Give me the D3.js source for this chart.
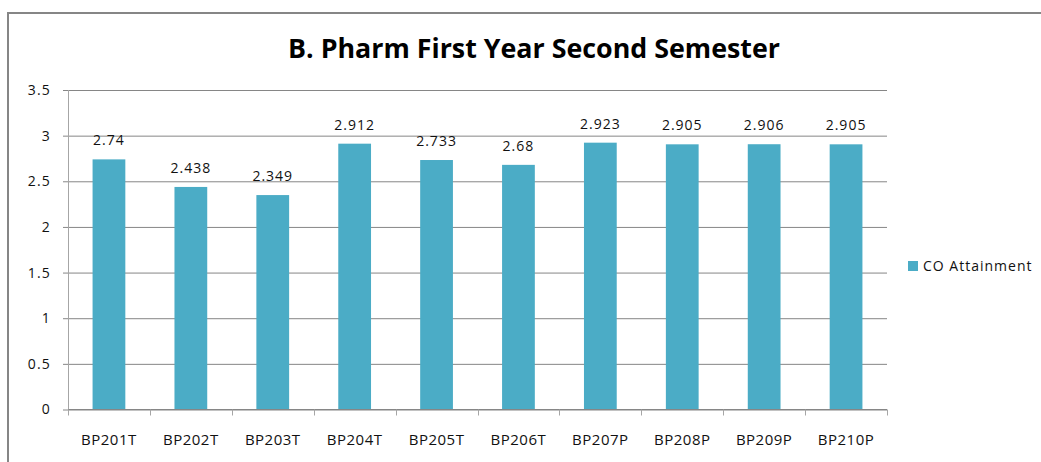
<!DOCTYPE html>
<html>
<head>
<meta charset="utf-8">
<script src="https://cdn.jsdelivr.net/npm/d3@7"></script>
<style>
  html, body { margin: 0; padding: 0; background: #fff; }
  svg { display: block; font-family: "Open Sans", sans-serif; }
</style>
</head>
<body>
<svg id="chart"></svg>
<script>
const courses = ["BP201T", "BP202T", "BP203T", "BP204T", "BP205T", "BP206T", "BP207P", "BP208P", "BP209P", "BP210P"];
const attainment = [2.74, 2.438, 2.349, 2.912, 2.733, 2.68, 2.923, 2.905, 2.906, 2.905];
const yTicks = [0, 0.5, 1, 1.5, 2, 2.5, 3, 3.5];
const seriesName = "CO Attainment";
const chartTitle = "B. Pharm First Year Second Semester";

const WIDTH = 1041;
const HEIGHT = 462;
const PLOT = { left: 68, right: 887, top: 90, bottom: 409.5 };
const BAR_COLOR = "#4BACC6";
const GRID_COLOR = "#868686";
const TEXT_COLOR = "#111";

const svg = d3.select("#chart").attr("width", WIDTH).attr("height", HEIGHT);

// outer frame (only top + left edges visible in the picture)
svg.append("line")
  .attr("x1", 7).attr("x2", WIDTH).attr("y1", 13).attr("y2", 13)
  .attr("stroke", GRID_COLOR).attr("stroke-width", 2);
svg.append("line")
  .attr("x1", 8).attr("x2", 8).attr("y1", 12).attr("y2", HEIGHT)
  .attr("stroke", GRID_COLOR).attr("stroke-width", 2);

// title
const title = svg.append("text")
  .attr("x", 534).attr("y", 58)
  .attr("text-anchor", "middle")
  .attr("font-size", 26).attr("font-weight", "bold")
  .attr("fill", "#000")
  .text(chartTitle);
title.attr("textLength", 492).attr("lengthAdjust", "spacingAndGlyphs");

const xScale = d3.scaleBand()
  .domain(courses)
  .range([PLOT.left, PLOT.right])
  .paddingInner(0)
  .paddingOuter(0);

const yScale = d3.scaleLinear()
  .domain([0, 3.5])
  .range([PLOT.bottom, PLOT.top]);

// gridlines + y axis
const yAxis = svg.append("g")
  .attr("transform", "translate(" + PLOT.left + ",0)")
  .call(d3.axisLeft(yScale).tickValues(yTicks).tickSize(-(PLOT.right - PLOT.left)).tickFormat(d3.format("")));
yAxis.select(".domain").remove();
yAxis.selectAll(".tick line")
  .attr("x1", -5)
  .attr("stroke", GRID_COLOR);
yAxis.selectAll(".tick text")
  .attr("x", -17)
  .attr("fill", TEXT_COLOR)
  .attr("font-size", 14)
  .attr("letter-spacing", 1.2)
  .attr("font-family", "Open Sans");

svg.append("line")
  .attr("x1", PLOT.left + 0.5).attr("x2", PLOT.left + 0.5)
  .attr("y1", PLOT.top).attr("y2", PLOT.bottom)
  .attr("stroke", "#a6a6a6");

// bars
const barW = xScale.bandwidth() * 0.4;
svg.append("g").selectAll("rect")
  .data(courses)
  .join("rect")
  .attr("x", (d) => xScale(d) + (xScale.bandwidth() - barW) / 2)
  .attr("y", (d, i) => yScale(attainment[i]))
  .attr("width", barW)
  .attr("height", (d, i) => PLOT.bottom - yScale(attainment[i]))
  .attr("fill", BAR_COLOR);

// value labels
svg.append("g").selectAll("text")
  .data(courses)
  .join("text")
  .attr("x", (d) => xScale(d) + xScale.bandwidth() / 2)
  .attr("y", (d, i) => yScale(attainment[i]) - 14)
  .attr("text-anchor", "middle")
  .attr("font-size", 14)
  .attr("letter-spacing", 1)
  .attr("fill", TEXT_COLOR)
  .text((d, i) => attainment[i]);

// x axis line and boundary ticks
svg.append("line")
  .attr("x1", PLOT.left).attr("x2", PLOT.right)
  .attr("y1", PLOT.bottom).attr("y2", PLOT.bottom)
  .attr("stroke", GRID_COLOR);
const edges = courses.map((d) => xScale(d)).concat([PLOT.right]);
svg.append("g").selectAll("line")
  .data(edges)
  .join("line")
  .attr("x1", (d) => Math.round(d) + 0.5).attr("x2", (d) => Math.round(d) + 0.5)
  .attr("y1", PLOT.bottom).attr("y2", PLOT.bottom + 6)
  .attr("stroke", "#a6a6a6");

svg.append("g").selectAll("text")
  .data(courses)
  .join("text")
  .attr("x", (d) => xScale(d) + xScale.bandwidth() / 2)
  .attr("y", 445)
  .attr("text-anchor", "middle")
  .attr("font-size", 15)
  .attr("letter-spacing", 0.5)
  .attr("fill", TEXT_COLOR)
  .text((d) => d);

// legend
const legend = svg.append("g").attr("transform", "translate(908,261)");
legend.append("rect")
  .attr("width", 10).attr("height", 10)
  .attr("fill", BAR_COLOR);
legend.append("text")
  .attr("x", 15).attr("y", 10)
  .attr("font-size", 14)
  .attr("letter-spacing", 1)
  .attr("fill", TEXT_COLOR)
  .text(seriesName);
</script>
</body>
</html>
